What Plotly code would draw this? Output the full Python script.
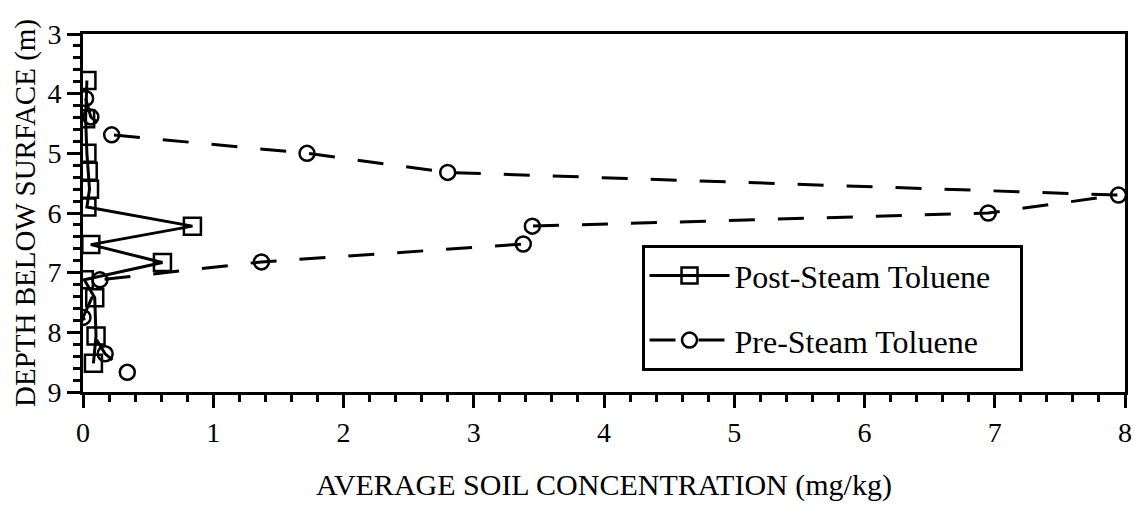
import plotly.graph_objects as go

# Toluene soil concentration profiles before and after steam injection
post_depth = [3.78, 4.42, 5.0, 5.3, 5.6, 5.9, 6.22, 6.53, 6.83, 7.12, 7.42, 8.06, 8.52]
post_conc = [0.03, 0.02, 0.03, 0.04, 0.05, 0.03, 0.84, 0.06, 0.61, 0.01, 0.09, 0.10, 0.08]

pre_depth = [4.08, 4.39, 4.69, 5.0, 5.32, 5.7, 6.0, 6.22, 6.52, 6.82, 7.12, 7.75, 8.36, 8.67]
pre_conc = [0.02, 0.06, 0.22, 1.72, 2.80, 7.95, 6.95, 3.45, 3.38, 1.37, 0.13, 0.0, 0.17, 0.34]

x_ticks = [0, 1, 2, 3, 4, 5, 6, 7, 8]
y_ticks = [3, 4, 5, 6, 7, 8, 9]

FONT = "Liberation Serif, Times New Roman, serif"
PAD = "\u00a0" * 3  # right-hand padding inside the legend box

fig = go.Figure()
fig.add_trace(go.Scatter(
    x=post_conc, y=post_depth, mode="lines+markers", name="Post-Steam Toluene" + PAD,
    legendgroup="post",
    line=dict(color="black", width=3),
    marker=dict(symbol="square-open", size=17, color="black", line=dict(width=2.5)),
))
fig.add_trace(go.Scatter(
    x=pre_conc, y=pre_depth, mode="lines+markers", name="Pre-Steam Toluene" + PAD,
    legendgroup="pre",
    line=dict(color="black", width=3, dash="26px,23px"),
    marker=dict(symbol="circle-open", size=15, color="black", line=dict(width=2.5)),
))

axis_common = dict(
    showline=True, linecolor="black", linewidth=3, mirror=True,
    showgrid=False, zeroline=False,
    ticks="outside", ticklen=13, tickwidth=3, tickcolor="black",
    tickfont=dict(family=FONT, size=28, color="black"),
)

fig.update_xaxes(
    range=[0, 8], tickvals=x_ticks,
    minor=dict(dtick=0.2, ticks="outside", ticklen=7, tickwidth=2.5, tickcolor="black"),
    title=dict(text="AVERAGE SOIL CONCENTRATION (mg/kg)",
               font=dict(family=FONT, size=30, color="black"), standoff=28),
    **axis_common,
)
fig.update_yaxes(
    range=[9, 3], tickvals=y_ticks,
    minor=dict(dtick=0.2, ticks="outside", ticklen=7, tickwidth=2.5, tickcolor="black"),
    title=dict(text="DEPTH BELOW SURFACE (m)",
               font=dict(family=FONT, size=29, color="black"), standoff=4),
    **axis_common,
)

fig.update_layout(
    width=1142, height=508,
    margin=dict(l=83, r=10, t=34, b=116),
    paper_bgcolor="white", plot_bgcolor="white",
    showlegend=True,
    legend=dict(
        x=0.536, y=0.41, xanchor="left", yanchor="top",
        bgcolor="white", bordercolor="black", borderwidth=3,
        font=dict(family=FONT, size=32, color="black"),
        tracegroupgap=20, traceorder="grouped",
        itemwidth=80,
    ),
)

fig.write_html("out.html")
